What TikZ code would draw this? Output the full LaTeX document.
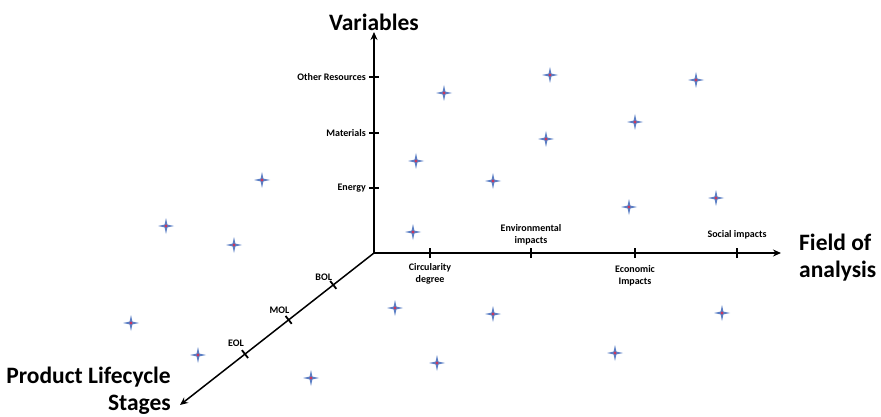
\documentclass[tikz,border=0pt]{standalone}
\usepackage{fontspec}
\setmainfont{Carlito}
\usetikzlibrary{arrows.meta, positioning, calc}
\definecolor{starblue}{HTML}{5A7EC4}
\definecolor{starred}{HTML}{C8385E}

\begin{document}
\begin{tikzpicture}[
  x=1pt, y=-1pt,
  axis/.style={-{Stealth[length=8pt, width=7pt]}, line width=1.5pt},
  tickmark/.style={line width=1.8pt},
  lbl/.style={font=\bfseries\fontsize{10}{12}\selectfont, align=center, inner sep=1pt},
  title/.style={font=\bfseries\fontsize{23.5}{27}\selectfont, inner sep=1pt},
  spark/.pic={
    \fill[starblue] (-8,0) -- (-1.4,-1.4) -- (0,-8) -- (1.4,-1.4) -- (8,0) -- (1.4,1.4) -- (0,8) -- (-1.4,1.4) -- cycle;
    \fill[starred] (0,0) circle (1.7);
  },
]
\useasboundingbox (0,0) rectangle (881,417);

% Axes
\coordinate (o) at (374,253);
\coordinate (vend) at (374,32);
\coordinate (hend) at (781,253);
\coordinate (dend) at (180,405);
\draw[axis] (o) -- (vend);
\draw[axis] (o) -- (hend);
\draw[axis] (o) -- (dend);

% Axis titles
\node[title, above=0pt of vend] (variables) {Variables};
\node[title, align=left, anchor=west] (field) at (798,258) {Field of\\analysis};
\node[title, align=right, anchor=east] (stages) at (172,391) {Product Lifecycle\\Stages};

% Variables ticks
\coordinate (v1) at (374,188);
\coordinate (v2) at (374,133);
\coordinate (v3) at (374,77);
\foreach \t in {v1,v2,v3}
  \draw[tickmark] ([xshift=-5pt]\t) -- ([xshift=5pt]\t);
\node[lbl, left=7pt of v1] (energy) {Energy};
\node[lbl, left=7pt of v2] (materials) {Materials};
\node[lbl, left=7pt of v3] (resources) {Other Resources};

% Field ticks
\coordinate (h1) at (430,253);
\coordinate (h2) at (531,253);
\coordinate (h3) at (635,253);
\coordinate (h4) at (737,253);
\foreach \t in {h1,h2,h3,h4}
  \draw[tickmark] ([yshift=-5pt]\t) -- ([yshift=5pt]\t);
\node[lbl, below=9pt of h1] (circ) {Circularity\\degree};
\node[lbl, above=7pt of h2] (env) {Environmental\\impacts};
\node[lbl, below=11pt of h3] (econ) {Economic\\Impacts};
\node[lbl, above=13pt of h4] (social) {Social impacts};

% Lifecycle ticks
\coordinate (d1) at ($(o)!0.21!(dend)$);
\coordinate (d2) at ($(o)!0.44!(dend)$);
\coordinate (d3) at ($(o)!0.665!(dend)$);
\foreach \t in {d1,d2,d3}
  \draw[tickmark] ($(\t)!5pt!90:(o)$) -- ($(\t)!5pt!-90:(o)$);
\node[lbl, above left=3pt and 0pt of d1] (bol) {BOL};
\node[lbl, above left=5pt and -2pt of d2] (mol) {MOL};
\node[lbl, above left=6pt and 0pt of d3] (eol) {EOL};

% Data points
\foreach \px/\py in {444/93, 550/75, 696/80, 635/122, 546/139, 416/161, 493/181,
  262/180, 716/198, 629/207, 166/226, 234/245, 413/232, 395/308, 493/314,
  722/313, 131/323, 198/355, 615/353, 437/363, 311/378}
  \pic at (\px,\py) {spark};

\end{tikzpicture}
\end{document}
